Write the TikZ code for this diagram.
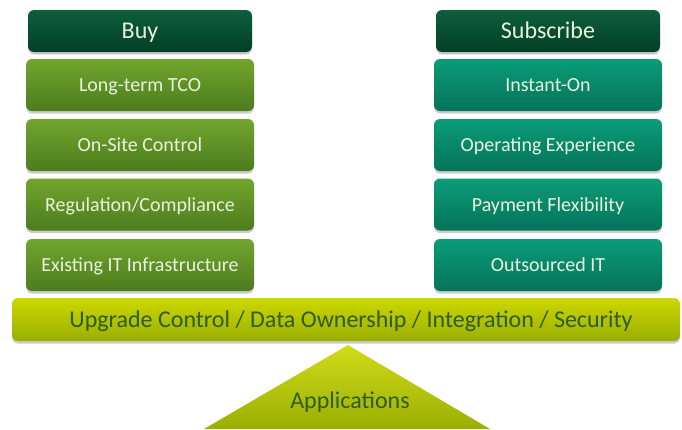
\documentclass[tikz,border=0pt]{standalone}
\usepackage{fontspec}
\setmainfont{Carlito}
\usetikzlibrary{shadows}
\definecolor{hdtop}{HTML}{0E5E3E}
\definecolor{hdbot}{HTML}{023F26}
\definecolor{lftop}{HTML}{72A52E}
\definecolor{lfbot}{HTML}{4D7C1E}
\definecolor{rttop}{HTML}{0A9C78}
\definecolor{rtbot}{HTML}{05735A}
\definecolor{bartop}{HTML}{CCD800}
\definecolor{barbot}{HTML}{9AAE02}
\definecolor{bartext}{HTML}{2F5B1C}
\definecolor{boxtext}{HTML}{EAF2DE}
\tikzset{
  base/.style={rounded corners=6pt, minimum width=#1, inner sep=0pt,
    drop shadow={opacity=0.4, shadow xshift=0pt, shadow yshift=-2.5pt}},
  header/.style={base=224pt, minimum height=42pt, top color=hdtop, bottom color=hdbot,
    text=boxtext, font=\fontsize{24}{28}\selectfont, text height=17pt, text depth=2pt},
  lbox/.style={base=228pt, minimum height=52pt, top color=lftop, bottom color=lfbot,
    text=boxtext, font=\fontsize{20}{23}\selectfont, text height=15pt, text depth=2pt},
  rbox/.style={base=228pt, minimum height=52pt, top color=rttop, bottom color=rtbot,
    text=boxtext, font=\fontsize{20}{23}\selectfont, text height=15pt, text depth=2pt},
  bar/.style={base=668pt, minimum height=43pt, top color=bartop, bottom color=barbot,
    text=bartext, font=\fontsize{24}{28}\selectfont, text height=17pt, text depth=2pt},
}
\begin{document}
\begin{tikzpicture}[x=1pt,y=-1pt]
\useasboundingbox (0,0) rectangle (682,429);
% triangle
\coordinate (apex) at (348,345);
\coordinate (bl) at (204,429);
\coordinate (br) at (490,429);
\shade[top color=bartop!90!white, bottom color=barbot] (apex) -- (br) -- (bl) -- cycle;
\node[text=bartext, font=\fontsize{24}{28}\selectfont] (apps) at (350,402) {Applications};
% headers
\node[header] (buy) at (140,31) {Buy};
\node[header] (sub) at (548,31) {Subscribe};
% left
\node[lbox] (l1) at (140,85) {Long-term TCO};
\node[lbox] (l2) at (140,145) {On-Site Control};
\node[lbox] (l3) at (140,204.5) {Regulation/Compliance};
\node[lbox] (l4) at (140,265) {Existing IT Infrastructure};
% right
\node[rbox] (r1) at (548,85) {Instant-On};
\node[rbox] (r2) at (548,145) {Operating Experience};
\node[rbox] (r3) at (548,204.5) {Payment Flexibility};
\node[rbox] (r4) at (548,265) {Outsourced IT};
% bar
\node[bar] (bar) at (346,319.5) {\hspace*{10pt}Upgrade Control / Data Ownership / Integration / Security};
\end{tikzpicture}
\end{document}
